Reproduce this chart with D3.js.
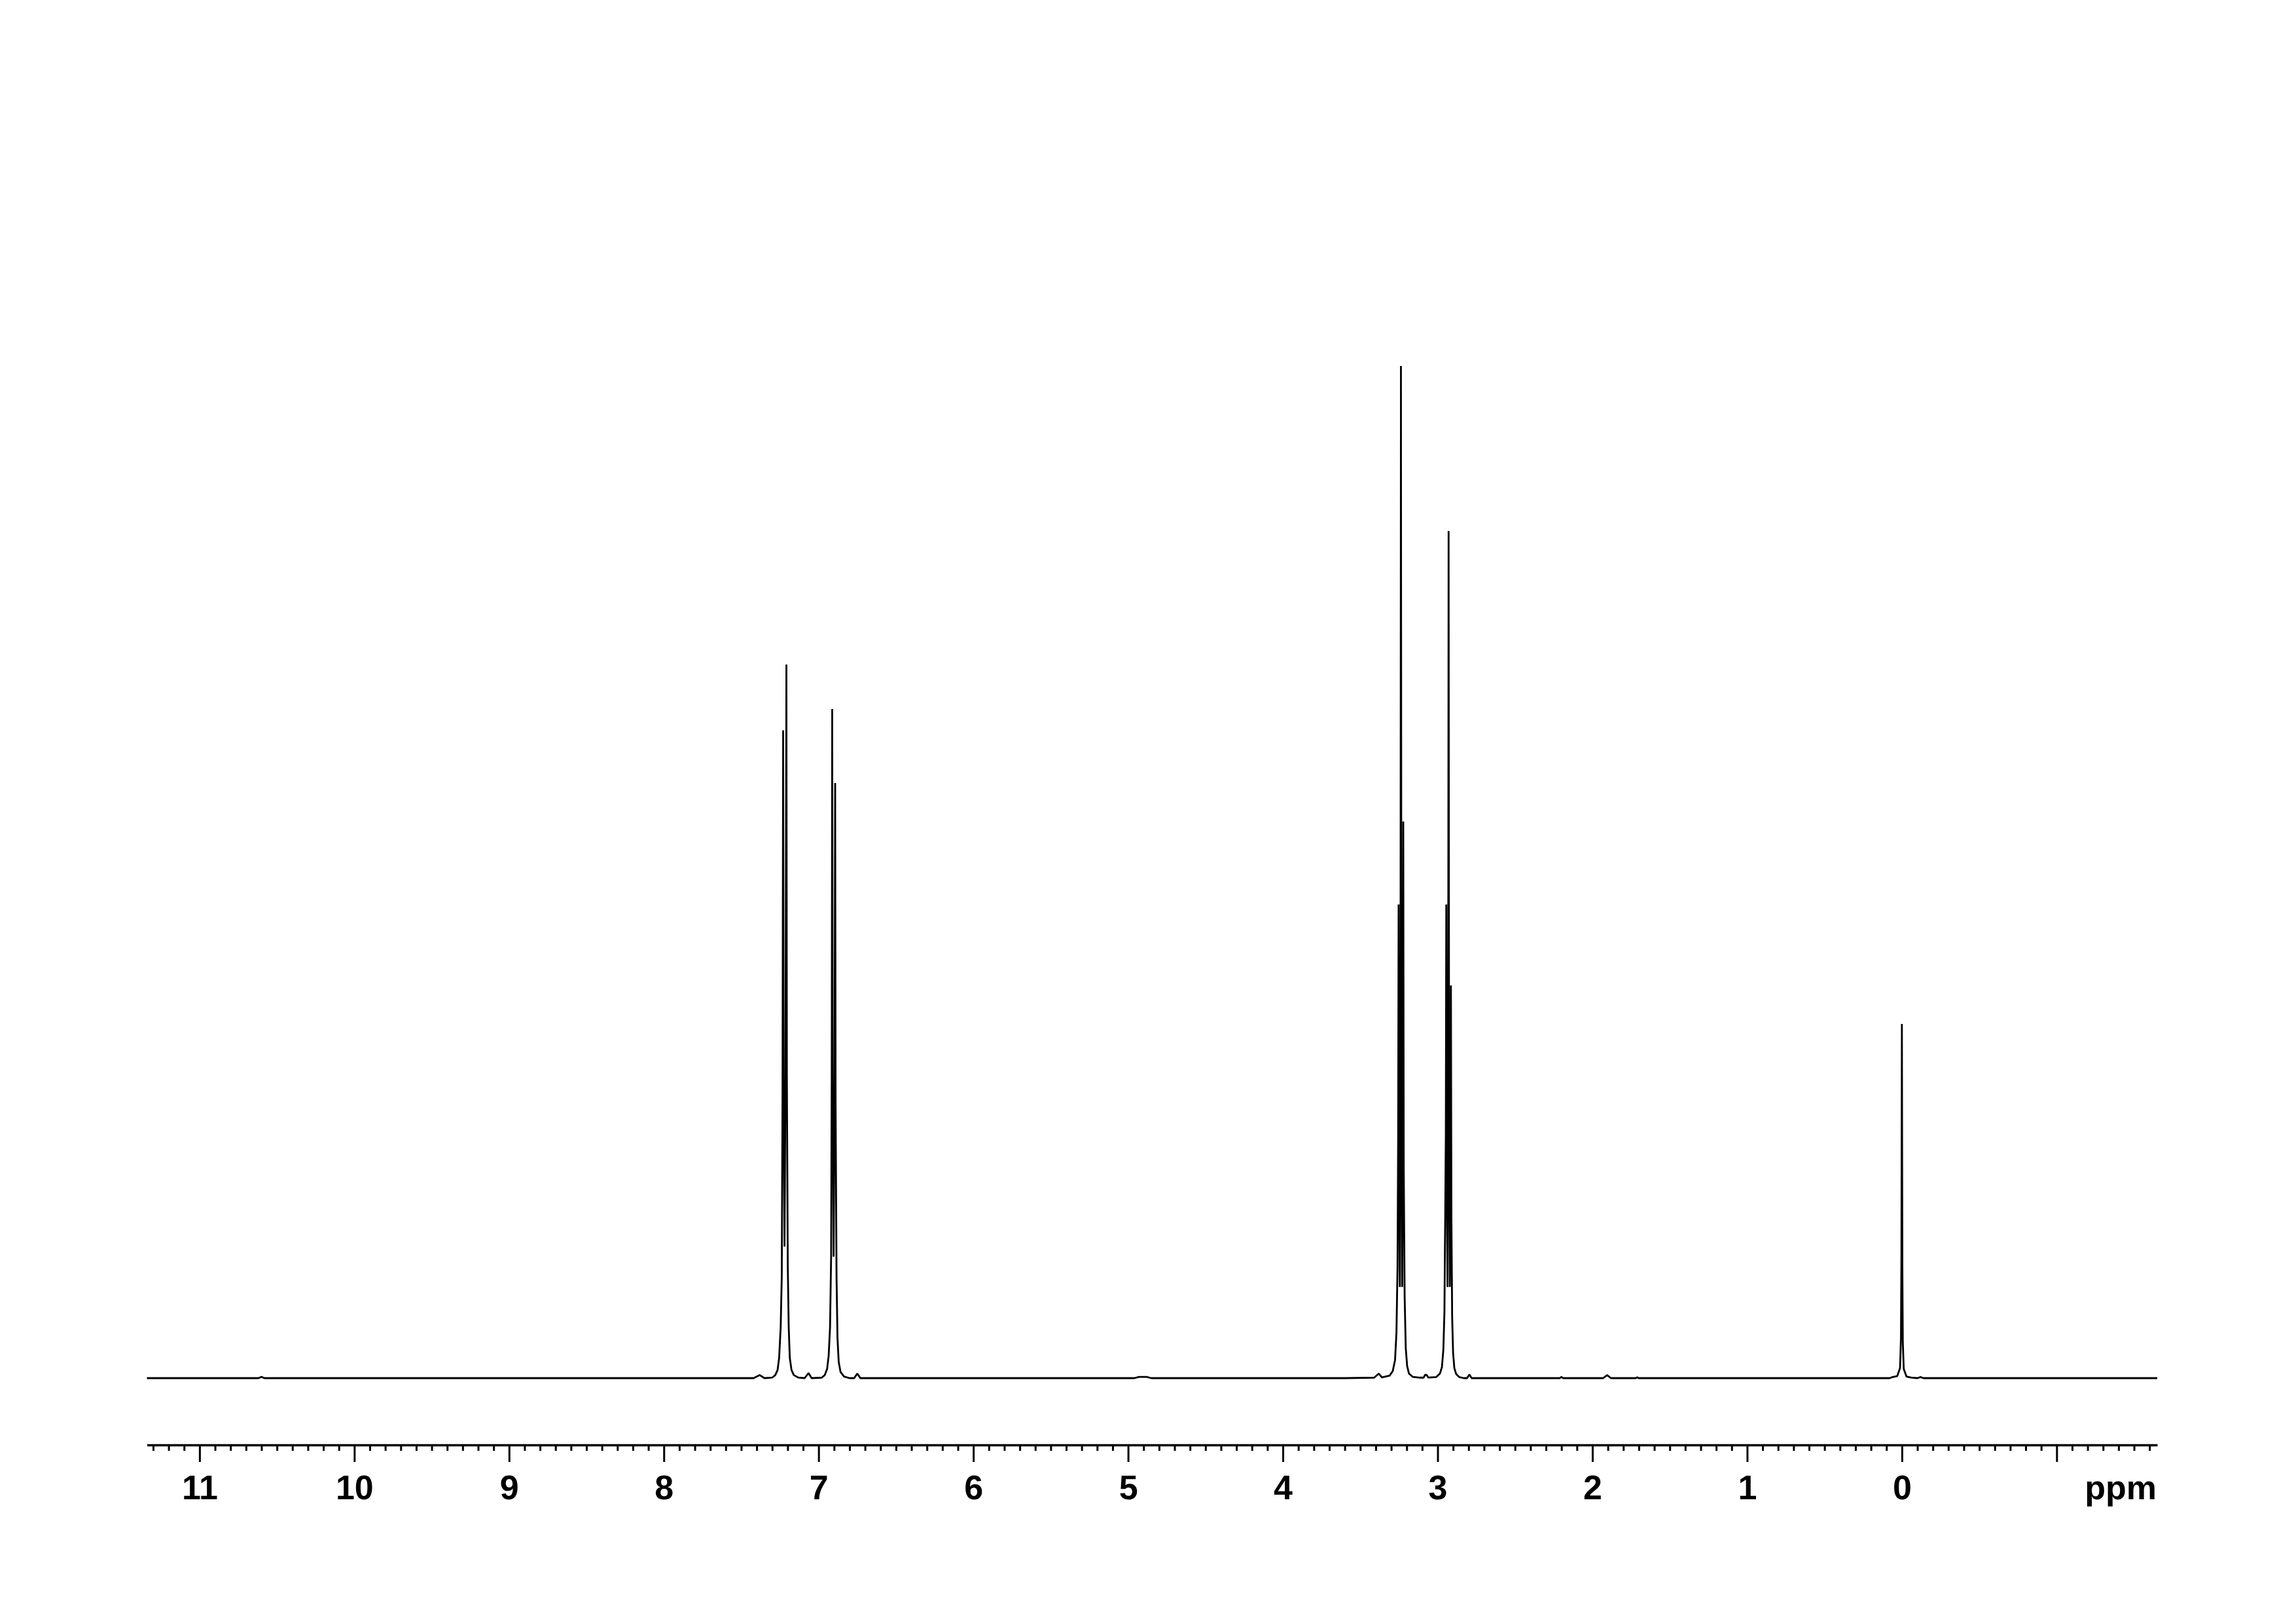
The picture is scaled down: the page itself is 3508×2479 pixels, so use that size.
<!DOCTYPE html>
<html>
<head>
<meta charset="utf-8">
<script src="https://cdn.jsdelivr.net/npm/d3@7"></script>
<style>
  html, body { margin: 0; padding: 0; background: #ffffff; }
  svg { display: block; }
</style>
</head>
<body>
<script>
// ---- Data ----
// Chemical shift range shown on the axis (ppm, high to low)
const ppmRange = [11.34, -1.65];
// Major ticks (ppm) and their labels
const majorTicks = [11, 10, 9, 8, 7, 6, 5, 4, 3, 2, 1, 0, -1];
const majorLabels = ["11", "10", "9", "8", "7", "6", "5", "4", "3", "2", "1", "0", ""];
const unitLabel = "ppm";
// Minor ticks every 0.1 ppm (tenths, as integers)
const minorTickTenths = [113, -16];

// Spectrum trace: [ppm, relative intensity] vertices (tallest line = 100)
const spectrum = [
  [11.34, 0], [10.62, 0], [10.60, 0.12], [10.58, 0],
  [8.10, 0], [7.42, 0], [7.38, 0.3], [7.35, 0],
  [7.30, 0.05], [7.28, 0.3], [7.265, 0.8], [7.255, 2.0], [7.245, 5], [7.238, 10],
  [7.233, 28], [7.229, 64.0], [7.226, 28], [7.220, 13], [7.214, 30], [7.208, 70.5],
  [7.205, 30], [7.199, 11], [7.193, 5], [7.186, 2], [7.175, 0.8], [7.16, 0.3], [7.13, 0.05],
  [7.09, 0], [7.065, 0.5], [7.045, 0],
  [6.98, 0.05], [6.96, 0.3], [6.945, 0.9], [6.935, 2.2], [6.926, 5], [6.919, 12],
  [6.915, 30], [6.912, 66.1], [6.909, 30], [6.903, 12], [6.897, 27], [6.893, 58.8],
  [6.890, 27], [6.884, 10], [6.878, 4], [6.870, 1.6], [6.858, 0.6], [6.835, 0.15], [6.80, 0],
  [6.77, 0], [6.75, 0.45], [6.73, 0],
  [4.96, 0], [4.93, 0.12], [4.88, 0.12], [4.85, 0],
  [3.60, 0], [3.41, 0.05], [3.38, 0.45], [3.36, 0.08],
  [3.31, 0.25], [3.29, 0.7], [3.275, 1.8], [3.266, 4.5], [3.259, 11], [3.255, 24],
  [3.252, 46.8], [3.249, 20], [3.244, 9], [3.240, 30], [3.237, 100], [3.234, 30],
  [3.229, 9], [3.225, 24], [3.222, 55], [3.219, 21], [3.213, 8], [3.206, 3],
  [3.197, 1.2], [3.185, 0.45], [3.16, 0.12], [3.12, 0.05],
  [3.09, 0.05], [3.08, 0.35], [3.07, 0.3], [3.06, 0.05],
  [3.01, 0.1], [2.985, 0.45], [2.972, 1.1], [2.963, 2.8], [2.956, 6.5], [2.951, 16],
  [2.947, 24], [2.944, 46.8], [2.941, 20], [2.936, 9], [2.932, 28], [2.929, 83.7],
  [2.926, 28], [2.921, 9], [2.917, 17], [2.914, 38.8], [2.911, 16], [2.906, 6],
  [2.900, 2.5], [2.892, 1.0], [2.880, 0.4], [2.860, 0.1], [2.83, 0],
  [2.81, 0], [2.795, 0.35], [2.78, 0],
  [2.21, 0], [2.20, 0.12], [2.19, 0],
  [1.93, 0], [1.905, 0.3], [1.88, 0],
  [1.72, 0], [1.71, 0.08], [1.70, 0],
  [0.08, 0], [0.06, 0.1], [0.03, 0.2], [0.012, 1.0], [0.006, 4], [0.003, 12],
  [0.0, 35], [-0.003, 11], [-0.006, 3.5], [-0.012, 0.9], [-0.03, 0.15], [-0.06, 0.05],
  [-0.10, 0], [-0.12, 0.1], [-0.14, 0], [-1.65, 0]
];

// ---- Drawing ----
const W = 3508, H = 2479;
const svg = d3.select("body").append("svg")
  .attr("width", W).attr("height", H)
  .attr("viewBox", `0 0 ${W} ${H}`);
svg.append("rect").attr("width", W).attr("height", H).attr("fill", "#ffffff");

const x = d3.scaleLinear().domain(ppmRange).range([224.5, 3296]);
const y = d3.scaleLinear().domain([0, 100]).range([2105, 559]);

// Spectrum trace
const line = d3.line()
  .x(d => x(d[0]))
  .y(d => y(d[1]))
  .curve(d3.curveLinear);

svg.append("path")
  .datum(spectrum)
  .attr("d", line)
  .attr("fill", "none")
  .attr("stroke", "#000000")
  .attr("stroke-width", 2.8)
  .attr("stroke-linejoin", "miter")
  .attr("stroke-miterlimit", 1);

// Axis
const axisY = 2207;
const minorTicks = d3.range(minorTickTenths[1], minorTickTenths[0] + 1)
  .map(t => t / 10)
  .filter(v => !majorTicks.some(m => Math.abs(m - v) < 1e-9));

const minorAxis = d3.axisBottom(x)
  .tickValues(minorTicks)
  .tickSize(9)
  .tickSizeOuter(0)
  .tickFormat("");
const gMinor = svg.append("g").attr("transform", `translate(0,${axisY})`).call(minorAxis);
gMinor.select(".domain").remove();
gMinor.selectAll(".tick line").attr("stroke", "#000").attr("stroke-width", 3);

const majorAxis = d3.axisBottom(x)
  .tickValues(majorTicks)
  .tickSize(26)
  .tickSizeOuter(0)
  .tickFormat((d, i) => majorLabels[i]);
const gMajor = svg.append("g").attr("transform", `translate(0,${axisY})`).call(majorAxis);
gMajor.select(".domain").attr("stroke", "#000").attr("stroke-width", 3.5);
gMajor.selectAll(".tick line").attr("stroke", "#000").attr("stroke-width", 3);
gMajor.selectAll(".tick text")
  .attr("y", 83)
  .attr("dy", null)
  .attr("fill", "#000")
  .style("font-family", "'Liberation Sans', Arial, Helvetica, sans-serif")
  .style("font-weight", "bold")
  .style("font-size", "52px");

svg.append("text")
  .attr("x", 3295)
  .attr("y", axisY + 83)
  .attr("text-anchor", "end")
  .attr("fill", "#000")
  .style("font-family", "'Liberation Sans', Arial, Helvetica, sans-serif")
  .style("font-weight", "bold")
  .style("font-size", "52px")
  .text(unitLabel);
</script>
</body>
</html>
